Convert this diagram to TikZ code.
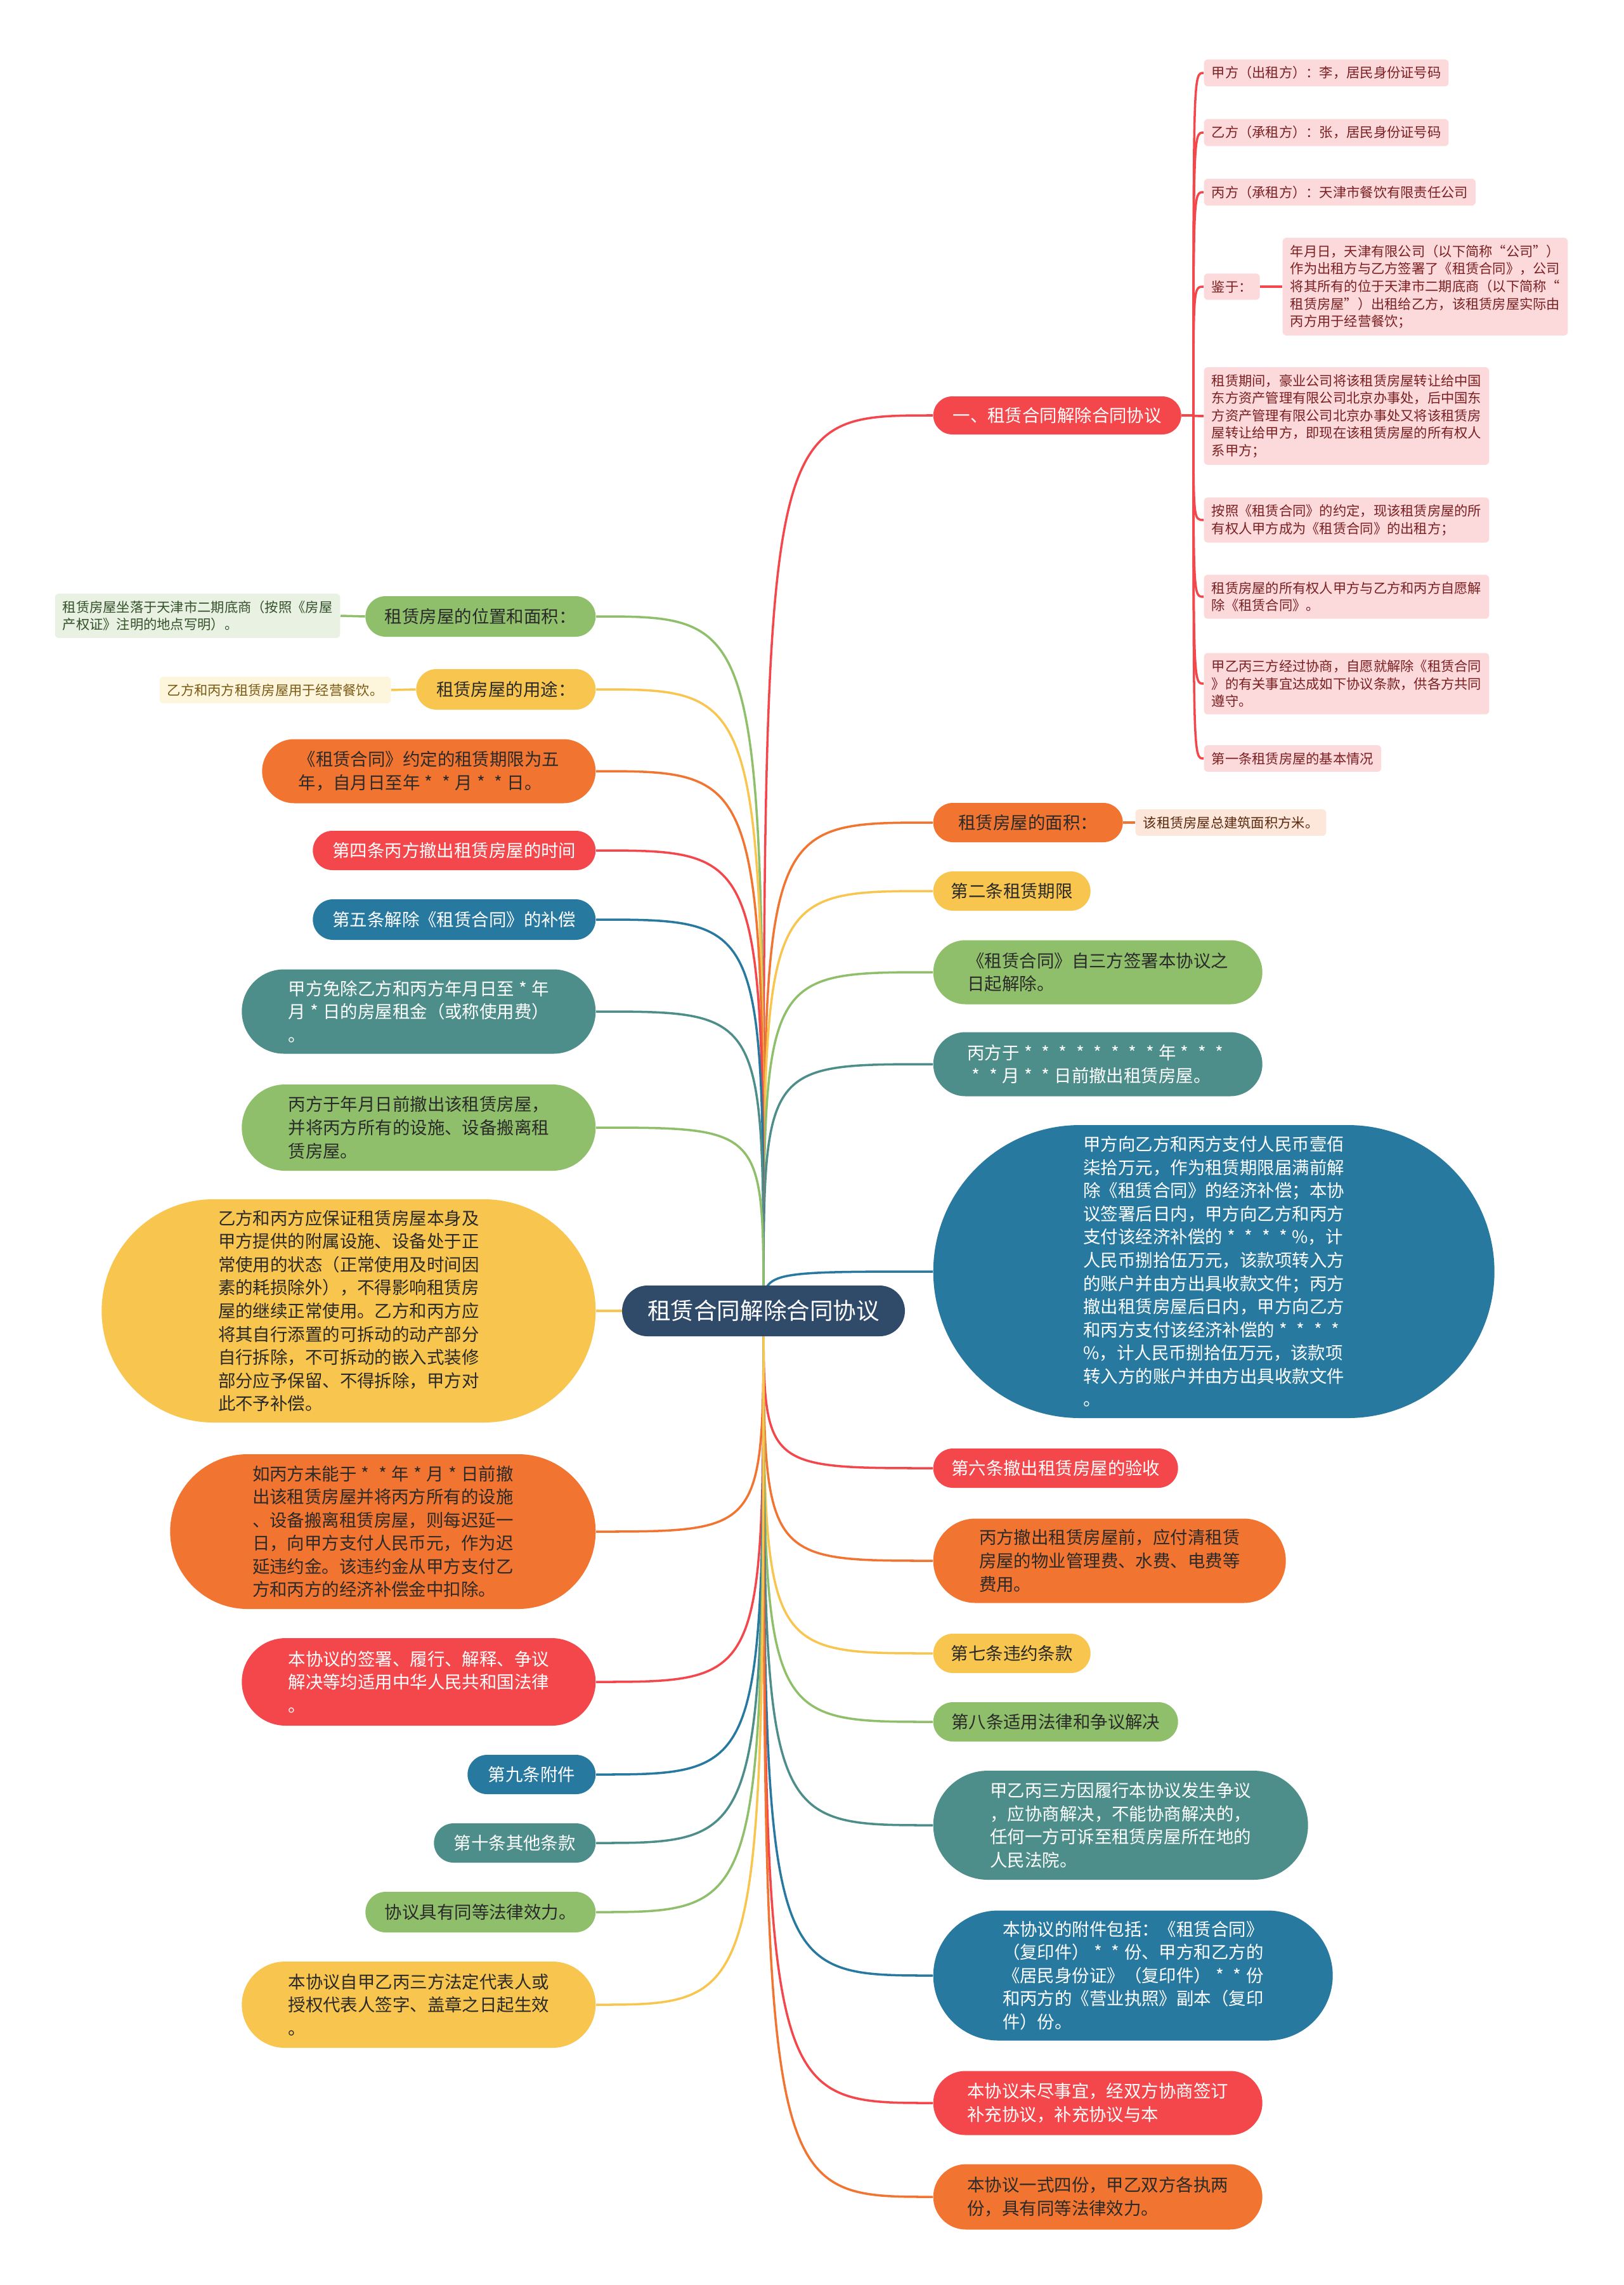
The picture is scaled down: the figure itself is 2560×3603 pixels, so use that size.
\documentclass[tikz,border=0pt]{standalone}
\usepackage{fontspec}
\setmainfont{Noto Sans CJK SC}
\usetikzlibrary{backgrounds}
\definecolor{cred}{HTML}{F4474C}
\definecolor{corange}{HTML}{F17530}
\definecolor{cyellow}{HTML}{F8C54F}
\definecolor{cgreen}{HTML}{8FBF6B}
\definecolor{cteal}{HTML}{4D8E8A}
\definecolor{cblue}{HTML}{28799F}
\definecolor{cnavy}{HTML}{2F4B69}
\definecolor{cdark}{HTML}{2A2A2A}
\definecolor{cpink}{HTML}{FCDADB}
\definecolor{cpinktxt}{HTML}{7A1F22}
\definecolor{clgreen}{HTML}{E9F2E2}
\definecolor{clgreentxt}{HTML}{34502A}
\definecolor{clyellow}{HTML}{FEF5DD}
\definecolor{clyellowtxt}{HTML}{7A5A12}
\definecolor{clorange}{HTML}{FDE7DA}
\definecolor{clorangetxt}{HTML}{5A2A10}
\newcommand{\xing}{\makebox[1em][c]{*}}
\begin{document}
\begin{tikzpicture}[x=0.01cm, y=-0.01cm, line cap=round, line join=round,
	pillbox/.style 2 args={rectangle, inner sep=0pt, align=left, minimum width=#1*0.01cm, minimum height=#2*0.01cm, rounded corners=#2*0.005cm},
	mainfont/.style={font=\fontsize{7.8pt}{10.4pt}\selectfont},
	redn/.style={mainfont, fill=cred, text=white},
	orgn/.style={mainfont, fill=corange, text=cdark},
	yeln/.style={mainfont, fill=cyellow, text=cdark},
	grnn/.style={mainfont, fill=cgreen, text=cdark},
	teln/.style={mainfont, fill=cteal, text=white},
	blun/.style={mainfont, fill=cblue, text=white},
	leaf/.style={rectangle, rounded corners=0.06cm, align=left, inner xsep=0.12cm, inner ysep=0.11cm, font=\fontsize{6.05pt}{7.85pt}\selectfont},
	pinkleaf/.style={leaf, fill=cpink, text=cpinktxt},
	link/.style={draw=#1, line width=1pt}]
	\useasboundingbox (0,0) rectangle (2560,3603);
	% centre
	\node[pillbox={446}{80}, fill=cnavy, text=white, font=\fontsize{10.4pt}{13pt}\selectfont] (root) at (1204,2067) {租赁合同解除合同协议};
	% right side
	\node[redn, pillbox={391}{60}, anchor=west] (R1) at (1471,655) {一、租赁合同解除合同协议};
	\node[orgn, pillbox={299}{62}, anchor=west] (R2) at (1471,1297) {租赁房屋的面积：};
	\node[yeln, pillbox={248}{62}, anchor=west] (R3) at (1471,1405) {第二条租赁期限};
	\node[grnn, pillbox={519}{101}, anchor=west] (R4) at (1471,1533) {《租赁合同》自三方签署本协议之\\日起解除。};
	\node[teln, pillbox={519}{101}, anchor=west] (R5) at (1471,1678) {丙方于\xing\xing\xing\xing\xing\xing\xing\xing 年\xing\xing\xing\\\xing\xing 月\xing\xing 日前撤出租赁房屋。};
	\node[blun, pillbox={885}{462}, anchor=west] (R6) at (1471,2005) {甲方向乙方和丙方支付人民币壹佰\\柒拾万元，作为租赁期限届满前解\\除《租赁合同》的经济补偿；本协\\议签署后日内，甲方向乙方和丙方\\支付该经济补偿的\xing\xing\xing\xing\%，计\\人民币捌拾伍万元，该款项转入方\\的账户并由方出具收款文件；丙方\\撤出租赁房屋后日内，甲方向乙方\\和丙方支付该经济补偿的\xing\xing\xing\xing\\\%，计人民币捌拾伍万元，该款项\\转入方的账户并由方出具收款文件\\。};
	\node[redn, pillbox={386}{62}, anchor=west] (R7) at (1471,2315) {第六条撤出租赁房屋的验收};
	\node[orgn, pillbox={556}{133}, anchor=west] (R8) at (1471,2461) {丙方撤出租赁房屋前，应付清租赁\\房屋的物业管理费、水费、电费等\\费用。};
	\node[yeln, pillbox={248}{62}, anchor=west] (R9) at (1471,2607) {第七条违约条款};
	\node[grnn, pillbox={386}{62}, anchor=west] (R10) at (1471,2715) {第八条适用法律和争议解决};
	\node[teln, pillbox={591}{172}, anchor=west] (R11) at (1471,2878) {甲乙丙三方因履行本协议发生争议\\，应协商解决，不能协商解决的，\\任何一方可诉至租赁房屋所在地的\\人民法院。};
	\node[blun, pillbox={630}{205}, anchor=west] (R12) at (1471,3115) {本协议的附件包括：《租赁合同》\\（复印件）\xing\xing 份、甲方和乙方的\\《居民身份证》（复印件）\xing\xing 份\\和丙方的《营业执照》副本（复印\\件）份。};
	\node[redn, pillbox={519}{101}, anchor=west] (R13) at (1471,3316) {本协议未尽事宜，经双方协商签订\\补充协议，补充协议与本};
	\node[orgn, pillbox={519}{103}, anchor=west] (R14) at (1471,3464) {本协议一式四份，甲乙双方各执两\\份，具有同等法律效力。};
	% left side
	\node[grnn, pillbox={363}{64}, anchor=east] (L1) at (940,972) {租赁房屋的位置和面积：};
	\node[yeln, pillbox={283}{64}, anchor=east] (L2) at (940,1087) {租赁房屋的用途：};
	\node[orgn, pillbox={526}{101}, anchor=east] (L3) at (940,1216) {《租赁合同》约定的租赁期限为五\\年，自月日至年\xing\xing 月\xing\xing 日。};
	\node[redn, pillbox={446}{62}, anchor=east] (L4) at (940,1341) {第四条丙方撤出租赁房屋的时间};
	\node[blun, pillbox={446}{64}, anchor=east] (L5) at (940,1450) {第五条解除《租赁合同》的补偿};
	\node[teln, pillbox={558}{133}, anchor=east] (L6) at (940,1595) {甲方免除乙方和丙方年月日至\xing 年\\月\xing 日的房屋租金（或称使用费）\\。};
	\node[grnn, pillbox={558}{136}, anchor=east] (L7) at (940,1778) {丙方于年月日前撤出该租赁房屋，\\并将丙方所有的设施、设备搬离租\\赁房屋。};
	\node[yeln, pillbox={779}{352}, anchor=east] (L8) at (940,2067) {乙方和丙方应保证租赁房屋本身及\\甲方提供的附属设施、设备处于正\\常使用的状态（正常使用及时间因\\素的耗损除外），不得影响租赁房\\屋的继续正常使用。乙方和丙方应\\将其自行添置的可拆动的动产部分\\自行拆除，不可拆动的嵌入式装修\\部分应予保留、不得拆除，甲方对\\此不予补偿。};
	\node[orgn, pillbox={671}{244}, anchor=east] (L9) at (940,2415) {如丙方未能于\xing\xing 年\xing 月\xing 日前撤\\出该租赁房屋并将丙方所有的设施\\、设备搬离租赁房屋，则每迟延一\\日，向甲方支付人民币元，作为迟\\延违约金。该违约金从甲方支付乙\\方和丙方的经济补偿金中扣除。};
	\node[redn, pillbox={558}{138}, anchor=east] (L10) at (940,2652) {本协议的签署、履行、解释、争议\\解决等均适用中华人民共和国法律\\。};
	\node[blun, pillbox={202}{62}, anchor=east] (L11) at (940,2798) {第九条附件};
	\node[teln, pillbox={255}{62}, anchor=east] (L12) at (940,2906) {第十条其他条款};
	\node[grnn, pillbox={363}{64}, anchor=east] (L13) at (940,3015) {协议具有同等法律效力。};
	\node[yeln, pillbox={558}{136}, anchor=east] (L14) at (940,3161) {本协议自甲乙丙三方法定代表人或\\授权代表人签字、盖章之日起生效\\。};
	% details
	\node[leaf, fill=clorange, text=clorangetxt, anchor=west] (R2c) at (1790,1297) {该租赁房屋总建筑面积方米。};
	\node[leaf, fill=clgreen, text=clgreentxt, anchor=east] (L1c) at (537,971) {租赁房屋坐落于天津市二期底商（按照《房屋\\产权证》注明的地点写明）。};
	\node[leaf, fill=clyellow, text=clyellowtxt, anchor=east] (L2c) at (617,1088) {乙方和丙方租赁房屋用于经营餐饮。};
	\node[pinkleaf, anchor=west] (P1) at (1898,115) {甲方（出租方）：李，居民身份证号码};
	\node[pinkleaf, anchor=west] (P2) at (1898,209) {乙方（承租方）：张，居民身份证号码};
	\node[pinkleaf, anchor=west] (P3) at (1898,303) {丙方（承租方）：天津市餐饮有限责任公司};
	\node[pinkleaf, anchor=west] (P4) at (1898,452) {鉴于：};
	\node[pinkleaf, anchor=west] (P4a) at (2022,452) {年月日，天津有限公司（以下简称“公司”）\\作为出租方与乙方签署了《租赁合同》，公司\\将其所有的位于天津市二期底商（以下简称“\\租赁房屋”）出租给乙方，该租赁房屋实际由\\丙方用于经营餐饮；};
	\node[pinkleaf, anchor=west] (P5) at (1898,656) {租赁期间，豪业公司将该租赁房屋转让给中国\\东方资产管理有限公司北京办事处，后中国东\\方资产管理有限公司北京办事处又将该租赁房\\屋转让给甲方，即现在该租赁房屋的所有权人\\系甲方；};
	\node[pinkleaf, anchor=west] (P6) at (1898,820) {按照《租赁合同》的约定，现该租赁房屋的所\\有权人甲方成为《租赁合同》的出租方；};
	\node[pinkleaf, anchor=west] (P7) at (1898,941) {租赁房屋的所有权人甲方与乙方和丙方自愿解\\除《租赁合同》。};
	\node[pinkleaf, anchor=west] (P8) at (1898,1078) {甲乙丙三方经过协商，自愿就解除《租赁合同\\》的有关事宜达成如下协议条款，供各方共同\\遵守。};
	\node[pinkleaf, anchor=west] (P9) at (1898,1196) {第一条租赁房屋的基本情况};
	\coordinate (J) at (1882,655);
	\begin{scope}[on background layer]
		\fill[white] (0,0) rectangle (2560,3603);
		\foreach \n/\c in {R1/cred,R2/corange,R3/cyellow,R4/cgreen,R5/cteal,R6/cblue,R7/cred,R8/corange,R9/cyellow,R10/cgreen,R11/cteal,R12/cblue,R13/cred,R14/corange}
			\draw[link=\c] (root.center) .. controls (root.center |- \n.west) .. (\n.west);
		\foreach \n/\c in {L1/cgreen,L2/cyellow,L3/corange,L4/cred,L5/cblue,L6/cteal,L7/cgreen,L8/cyellow,L9/corange,L10/cred,L11/cblue,L12/cteal,L13/cgreen,L14/cyellow}
			\draw[link=\c] (root.center) .. controls (root.center |- \n.east) .. (\n.east);
		\foreach \p in {P1,P2,P3,P4,P5,P6,P7,P8,P9}
			\draw[link=cred] (R1.east) -- (J) .. controls (J |- \p.west) .. (\p.west);
		\draw[link=cred] (P4.east) -- (P4a.west);
		\draw[link=corange] (R2.east) -- (R2c.west);
		\draw[link=cgreen] (L1.west) -- (L1c.east);
		\draw[link=cyellow] (L2.west) -- (L2c.east);
	\end{scope}
\end{tikzpicture}
\end{document}
